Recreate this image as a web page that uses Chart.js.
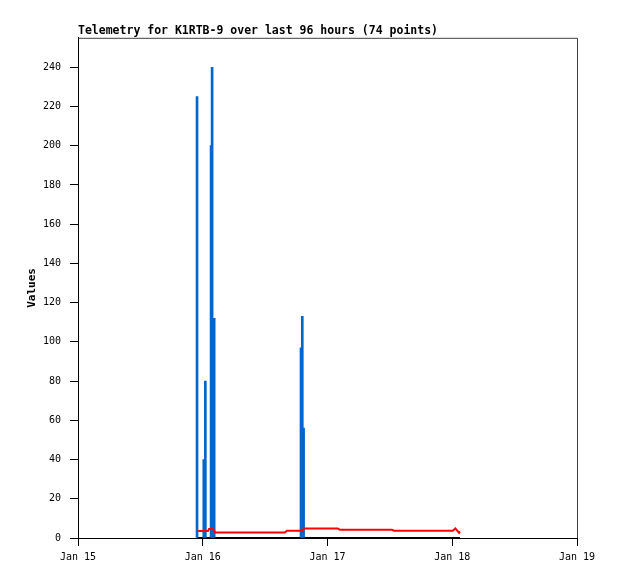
<!DOCTYPE html>
<html>
<head>
<meta charset="utf-8">
<script src="https://cdn.jsdelivr.net/npm/chart.js@4"></script>
<style>
html,body{margin:0;padding:0;background:#fff;}
#wrap{width:618px;height:579px;}
</style>
</head>
<body>
<div id="wrap"><canvas id="c" width="618" height="579"></canvas></div>
<script>
// Hours since Jan 15 00:00
const tickLabels = ['Jan 15', 'Jan 16', 'Jan 17', 'Jan 18', 'Jan 19'];
const tickHours = [0, 24, 48, 72, 96];

// Blue impulse series
const impulseHours = [22.9, 24.2, 24.5, 25.6, 25.8, 26.2, 42.9, 43.15, 43.4];
const impulseValues = [225, 40, 80, 200, 240, 112, 97, 113, 56];

// Red series
const redHours = [22.9, 25.0, 25.2, 26.0, 26.4, 39.8, 40.2, 43.1, 43.5, 50.0, 50.4, 60.4, 60.8, 72.1, 72.6, 73.0, 73.3, 73.5];
const redValues = [3.6, 3.6, 4.6, 4.6, 2.8, 2.8, 3.7, 3.7, 4.8, 4.8, 4.2, 4.2, 3.7, 3.7, 4.9, 3.6, 2.6, 3.4];

// Black series (zero)
const blackHours = [22.9, 26.4, 43.4, 60.0, 73.5];
const blackValues = [0, 0, 0, 0, 0];

const zip = (xs, ys) => xs.map((x, i) => ({x: x, y: ys[i]}));

const borderPlugin = {
  id: 'frame',
  afterDatasetsDraw(chart) {
    const a = chart.chartArea, ctx = chart.ctx;
    ctx.save();
    ctx.strokeStyle = '#404040';
    ctx.lineWidth = 1;
    ctx.beginPath();
    ctx.moveTo(a.left + 0.5, a.top + 0.5);
    ctx.lineTo(a.right + 0.5, a.top + 0.5);
    ctx.lineTo(a.right + 0.5, a.bottom);
    ctx.stroke();
    ctx.restore();
  }
};

new Chart(document.getElementById('c'), {
  type: 'line',
  data: {
    datasets: [
      {
        type: 'line',
        data: zip(blackHours, blackValues),
        borderColor: '#000000',
        borderWidth: 2,
        pointRadius: 0,
        tension: 0,
        order: 3
      },
      {
        type: 'bar',
        data: zip(impulseHours, impulseValues),
        backgroundColor: '#0066cc',
        borderWidth: 0,
        barThickness: 2,
        order: 2
      },
      {
        type: 'line',
        data: zip(redHours, redValues),
        borderColor: '#ff0000',
        borderWidth: 2,
        pointRadius: 0,
        tension: 0,
        order: 1
      }
    ]
  },
  options: {
    responsive: false,
    animation: false,
    devicePixelRatio: 1,
    layout: { padding: { top: 21, right: 41, bottom: 0, left: 0 } },
    plugins: {
      legend: { display: false },
      tooltip: { enabled: false },
      title: {
        display: true,
        text: 'Telemetry for K1RTB-9 over last 96 hours (74 points)',
        align: 'start',
        fullSize: false,
        color: '#000',
        font: { family: 'DejaVu Sans Mono', size: 11.5, weight: 'bold', lineHeight: 1.2 },
        padding: { top: 3, bottom: 0 }
      }
    },
    scales: {
      x: {
        type: 'linear',
        min: 0,
        max: 96,
        offset: false,
        afterFit: (s) => { s.height = 41; },
        afterBuildTicks: (s) => { s.ticks = tickHours.map(v => ({value: v})); },
        ticks: {
          color: '#000',
          font: { family: 'DejaVu Sans Mono', size: 10 },
          padding: 5,
          maxRotation: 0,
          autoSkip: false,
          callback: (v) => { const i = tickHours.indexOf(v); return i >= 0 ? tickLabels[i] : ''; }
        },
        grid: { drawOnChartArea: false, tickLength: 8, color: '#000', offset: false },
        border: { color: '#000', width: 1 }
      },
      y: {
        type: 'linear',
        min: 0,
        max: 255,
        afterFit: (s) => { s.width = 78; },
        ticks: {
          stepSize: 20,
          includeBounds: false,
          color: '#000',
          font: { family: 'DejaVu Sans Mono', size: 10 },
          padding: 9
        },
        grid: { drawOnChartArea: false, tickLength: 8, color: '#000' },
        border: { color: '#000', width: 1 },
        title: {
          display: true,
          text: 'Values',
          color: '#000',
          font: { family: 'DejaVu Sans Mono', size: 11, weight: 'bold', lineHeight: 1.2 },
          padding: { top: 26, bottom: 0 }
        }
      }
    }
  },
  plugins: [borderPlugin]
});
</script>
</body>
</html>
